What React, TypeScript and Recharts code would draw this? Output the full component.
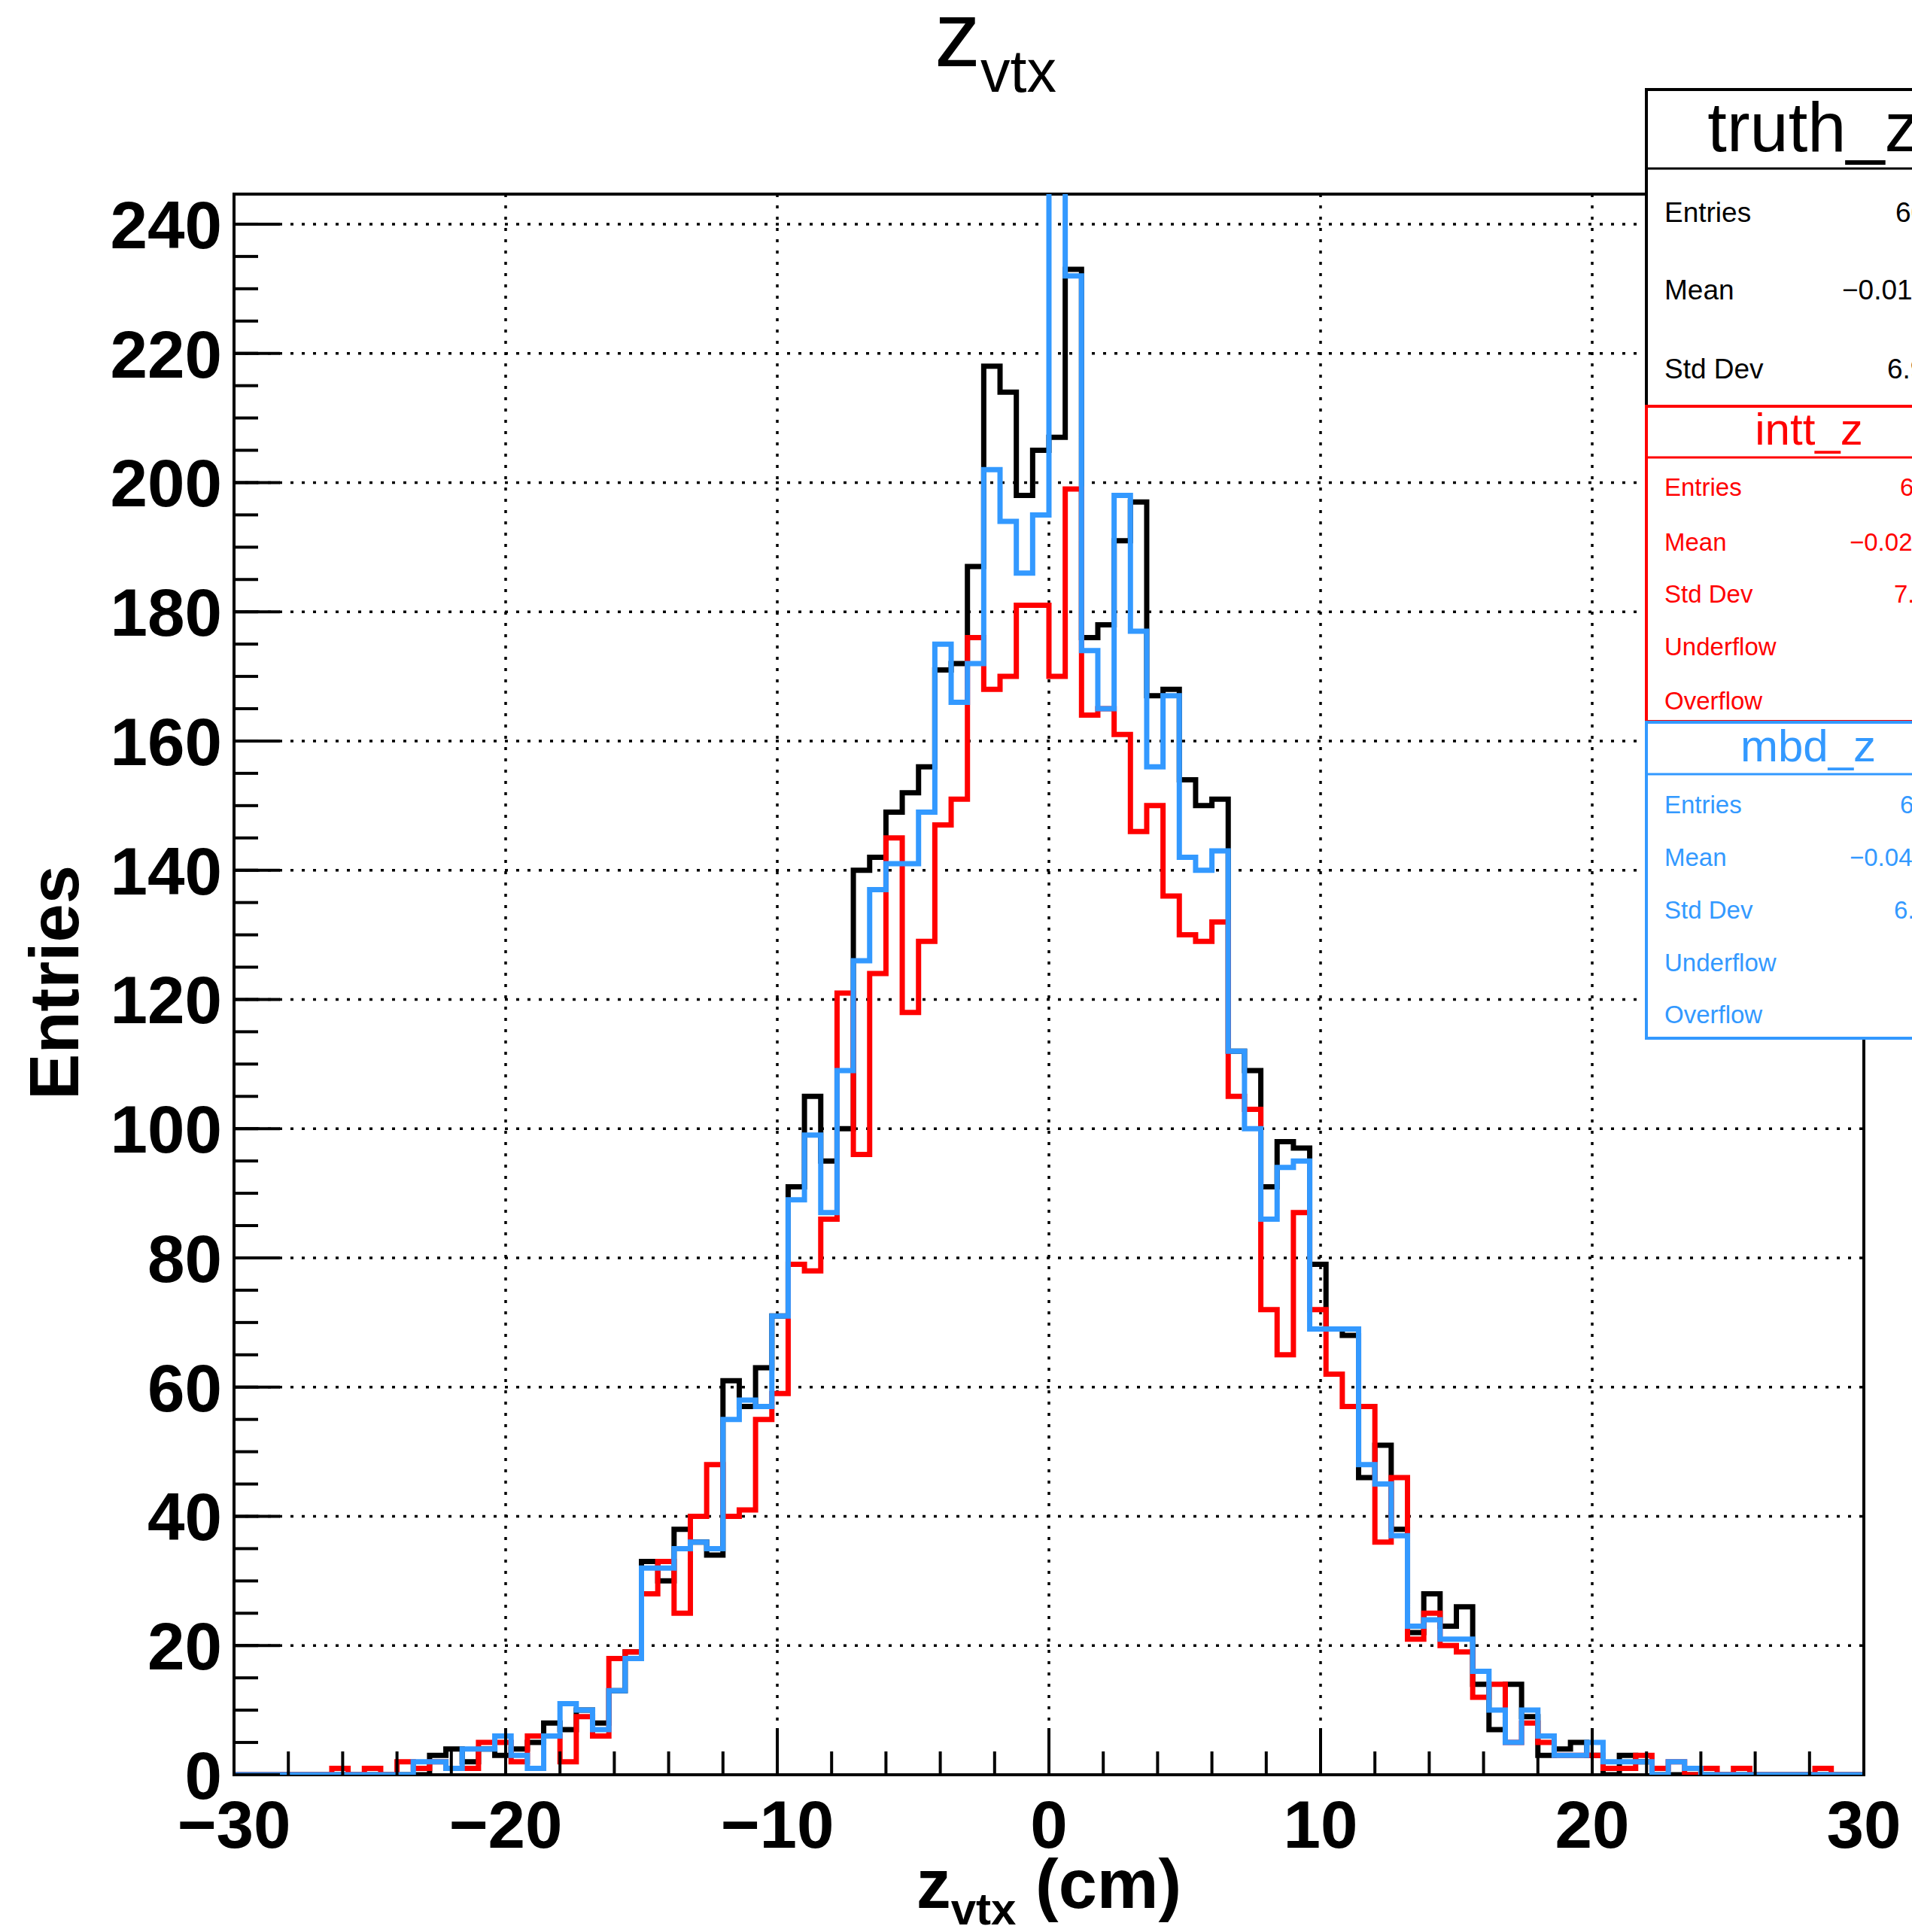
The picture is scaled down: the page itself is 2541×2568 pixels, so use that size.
import React from 'react'
import { ComposedChart, Line, XAxis, YAxis, CartesianGrid, ReferenceArea } from 'recharts'

const FONT = '"Liberation Sans", Arial, Helvetica, sans-serif'
const BLUE = '#3399ff'
const RED = '#ff0000'

// histogram binning: 100 bins from -30 to 30 cm
const nBins = 100
const xMin = -30
const xMax = 30
const yTop = 244.65

// bin contents, left to right
const truthCounts = [
  0, 0, 0, 0, 0, 0, 0, 0, 0, 0,
  0, 0, 3, 4, 2, 4, 3, 4, 5, 8,
  7, 10, 8, 13, 19, 33, 30, 38, 36, 34,
  61, 57, 63, 71, 91, 105, 95, 100, 140, 142,
  149, 152, 156, 171, 172, 187, 218, 214, 198, 205,
  207, 233, 176, 178, 191, 197, 167, 168, 154, 150,
  151, 112, 109, 91, 98, 97, 79, 69, 68, 46,
  51, 38, 22, 28, 23, 26, 14, 7, 14, 9,
  3, 4, 5, 3, 0, 3, 2, 0, 0, 0,
  0, 0, 0, 0, 0, 0, 0, 0, 0, 0,
]

const inttCounts = [
  0, 0, 0, 0, 0, 0, 1, 0, 1, 0,
  2, 1, 2, 1, 1, 5, 5, 2, 6, 6,
  2, 9, 6, 18, 19, 28, 33, 25, 40, 48,
  40, 41, 55, 59, 79, 78, 86, 121, 96, 124,
  145, 118, 129, 147, 151, 176, 168, 170, 181, 181,
  170, 199, 164, 165, 161, 146, 150, 136, 130, 129,
  132, 105, 103, 72, 65, 87, 72, 62, 57, 57,
  36, 46, 21, 25, 20, 19, 12, 14, 5, 8,
  5, 3, 3, 3, 1, 1, 3, 1, 2, 0,
  1, 0, 1, 0, 0, 0, 0, 1, 0, 0,
]

const mbdCounts = [
  0, 0, 0, 0, 0, 0, 0, 0, 0, 0,
  0, 2, 2, 1, 4, 4, 6, 3, 1, 6,
  11, 10, 7, 13, 18, 32, 32, 35, 36, 35,
  55, 58, 57, 71, 89, 99, 87, 109, 126, 137,
  141, 141, 149, 175, 166, 172, 202, 194, 186, 195,
  300, 232, 174, 165, 198, 177, 156, 167, 142, 140,
  143, 112, 100, 86, 94, 95, 69, 69, 69, 48,
  45, 37, 23, 24, 21, 21, 16, 10, 5, 10,
  6, 3, 3, 5, 2, 2, 2, 0, 2, 1,
  0, 0, 0, 0, 0, 0, 0, 0, 0, 0,
]

const xMajorTicks = [-30, -20, -10, 0, 10, 20, 30]
const xMinorTicks = [-30, -28, -26, -24, -22, -20, -18, -16, -14, -12, -10, -8, -6, -4, -2, 0,
  2, 4, 6, 8, 10, 12, 14, 16, 18, 20, 22, 24, 26, 28, 30]
const yMajorTicks = [0, 20, 40, 60, 80, 100, 120, 140, 160, 180, 200, 220, 240]
const yMinorTicks = [0, 5, 10, 15, 20, 25, 30, 35, 40, 45, 50, 55, 60, 65, 70, 75, 80, 85, 90, 95,
  100, 105, 110, 115, 120, 125, 130, 135, 140, 145, 150, 155, 160, 165, 170, 175, 180, 185, 190, 195,
  200, 205, 210, 215, 220, 225, 230, 235, 240]

const binWidth = (xMax - xMin) / nBins
const rows = Array.from({ length: nBins + 1 }, (_, i) => {
  const j = Math.min(i, nBins - 1)
  return {
    x: Math.round((xMin + i * binWidth) * 1000) / 1000,
    truth: truthCounts[j],
    intt: inttCounts[j],
    mbd: mbdCounts[j],
  }
})

const fmt = (v: number) => (v < 0 ? '\u2212' + Math.abs(v) : String(v))

function XMajorTick(props: any) {
  const { x, y, payload } = props
  return (
    <g>
      <line x1={x} x2={x} y1={y} y2={y - 62} stroke="#000" strokeWidth={4} />
      <text x={x} y={y + 97} textAnchor="middle" fontFamily={FONT} fontWeight="bold" fontSize={89} fill="#000">
        {fmt(payload.value)}
      </text>
    </g>
  )
}

function XMinorTick(props: any) {
  const { x, y } = props
  return <line x1={x} x2={x} y1={y - 1} y2={y - 32} stroke="#000" strokeWidth={4} />
}

function YMajorTick(props: any) {
  const { x, y, payload } = props
  return (
    <g>
      <line x1={x} x2={x + 61} y1={y} y2={y} stroke="#000" strokeWidth={4} />
      <text x={x - 16} y={y + 32} textAnchor="end" fontFamily={FONT} fontWeight="bold" fontSize={89} fill="#000">
        {payload.value}
      </text>
    </g>
  )
}

function YMinorTick(props: any) {
  const { x, y } = props
  return <line x1={x + 1} x2={x + 33} y1={y} y2={y} stroke="#000" strokeWidth={4} />
}

function StatRow({ label, value, y, vx, color, size }: any) {
  return (
    <g fill={color} fontFamily={FONT} fontSize={size}>
      <text x={2212} y={y}>{label}</text>
      {value && <text x={vx} y={y}>{value}</text>}
    </g>
  )
}

function Overlay() {
  return (
    <svg width={2541} height={2568} style={{ position: 'absolute', left: 0, top: 0, pointerEvents: 'none' }}>
      {/* title */}
      <text x={1323} y={88} textAnchor="middle" fontFamily={FONT} fontSize={122} fill="#000">
        <tspan>z</tspan>
        <tspan fontSize={79} dy={34}>vtx</tspan>
      </text>

      {/* axis titles */}
      <text x={1394} y={2536} textAnchor="middle" fontFamily={FONT} fontWeight="bold" fontSize={92} fill="#000">
        <tspan>z</tspan>
        <tspan fontSize={60} dy={22}>vtx</tspan>
        <tspan dy={-22}> (cm)</tspan>
      </text>
      <text transform="translate(104,1306) rotate(-90)" textAnchor="middle" fontFamily={FONT} fontWeight="bold" fontSize={92} fill="#000">
        Entries
      </text>

      {/* truth_z stats */}
      <rect x={2188} y={119} width={470} height={421} fill="#fff" stroke="#000" strokeWidth={4} />
      <line x1={2188} x2={2658} y1={224} y2={224} stroke="#000" strokeWidth={3} />
      <text x={2410} y={201} textAnchor="middle" fontFamily={FONT} fontSize={92} fill="#000">truth_z</text>
      <StatRow label="Entries" value="6000" y={295} vx={2519} color="#000" size={37} />
      <StatRow label="Mean" value={'\u22120.01434'} y={398} vx={2448} color="#000" size={37} />
      <StatRow label="Std Dev" value="6.951" y={503} vx={2508} color="#000" size={37} />

      {/* intt_z stats */}
      <rect x={2188} y={540} width={470} height={419} fill="#fff" stroke={RED} strokeWidth={4} />
      <line x1={2188} x2={2658} y1={608} y2={608} stroke={RED} strokeWidth={3} />
      <text x={2404} y={591} textAnchor="middle" fontFamily={FONT} fontSize={60} fill={RED}>intt_z</text>
      <StatRow label="Entries" value="6000" y={659} vx={2525} color={RED} size={33} />
      <StatRow label="Mean" value={'\u22120.0245'} y={732} vx={2458} color={RED} size={33} />
      <StatRow label="Std Dev" value="7.152" y={801} vx={2517} color={RED} size={33} />
      <StatRow label="Underflow" y={871} color={RED} size={33} />
      <StatRow label="Overflow" y={943} color={RED} size={33} />

      {/* mbd_z stats */}
      <rect x={2188} y={960} width={470} height={420} fill="#fff" stroke={BLUE} strokeWidth={4} />
      <line x1={2188} x2={2658} y1={1029} y2={1029} stroke={BLUE} strokeWidth={3} />
      <text x={2403} y={1012} textAnchor="middle" fontFamily={FONT} fontSize={60} fill={BLUE}>mbd_z</text>
      <StatRow label="Entries" value="6000" y={1081} vx={2525} color={BLUE} size={33} />
      <StatRow label="Mean" value={'\u22120.0412'} y={1151} vx={2458} color={BLUE} size={33} />
      <StatRow label="Std Dev" value="6.874" y={1221} vx={2517} color={BLUE} size={33} />
      <StatRow label="Underflow" y={1291} color={BLUE} size={33} />
      <StatRow label="Overflow" y={1360} color={BLUE} size={33} />
    </svg>
  )
}

export default function App() {
  return (
    <div style={{ position: 'fixed', left: 0, top: 0, width: 2541, height: 2568, overflow: 'hidden', background: '#fff' }}>
      <ComposedChart
        width={2541}
        height={2568}
        data={rows}
        margin={{ top: 258, right: 64, bottom: 207, left: 309 }}
      >
        <CartesianGrid stroke="#000" strokeWidth={3.5} strokeDasharray="4 11" />
        <XAxis
          dataKey="x"
          type="number"
          domain={[xMin, xMax]}
          ticks={xMajorTicks}
          interval={0}
          allowDataOverflow
          height={1}
          tickSize={0}
          tickMargin={0}
          axisLine={false}
          tickLine={false}
          tick={<XMajorTick />}
        />
        <XAxis
          xAxisId="minor"
          dataKey="x"
          type="number"
          domain={[xMin, xMax]}
          ticks={xMinorTicks}
          interval={0}
          allowDataOverflow
          height={1}
          tickSize={0}
          tickMargin={0}
          axisLine={false}
          tickLine={false}
          tick={<XMinorTick />}
        />
        <YAxis
          type="number"
          domain={[0, yTop]}
          ticks={yMajorTicks}
          interval={0}
          allowDataOverflow
          width={1}
          tickSize={0}
          tickMargin={0}
          axisLine={false}
          tickLine={false}
          tick={<YMajorTick />}
        />
        <YAxis
          yAxisId="minor"
          type="number"
          domain={[0, yTop]}
          ticks={yMinorTicks}
          interval={0}
          allowDataOverflow
          width={1}
          tickSize={0}
          tickMargin={0}
          axisLine={false}
          tickLine={false}
          tick={<YMinorTick />}
        />
        <ReferenceArea x1={xMin} x2={xMax} y1={0} y2={yTop} fill="none" stroke="#000" strokeWidth={4} ifOverflow="visible" />
        <Line type="stepAfter" dataKey="truth" stroke="#000" strokeWidth={7} dot={false} activeDot={false} isAnimationActive={false} />
        <Line type="stepAfter" dataKey="intt" stroke={RED} strokeWidth={7} dot={false} activeDot={false} isAnimationActive={false} />
        <Line type="stepAfter" dataKey="mbd" stroke={BLUE} strokeWidth={7} dot={false} activeDot={false} isAnimationActive={false} />
      </ComposedChart>
      <Overlay />
    </div>
  )
}
